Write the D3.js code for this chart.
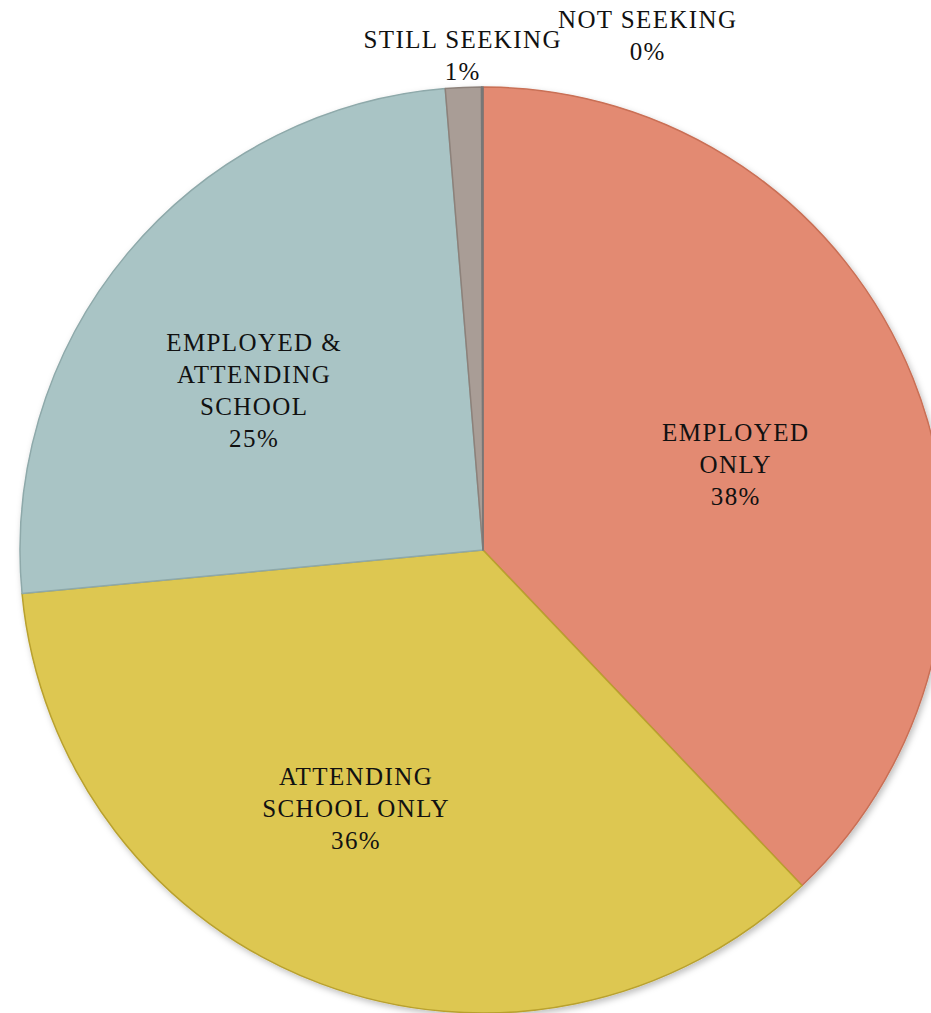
<!DOCTYPE html>
<html><head><meta charset="utf-8">
<script src="https://cdn.jsdelivr.net/npm/d3@7"></script>
<style>html,body{margin:0;padding:0;background:#fff;}svg{display:block;}</style>
</head><body>
<svg id="chart" width="931" height="1013"></svg>
<script>
// Data
const categories = ["EMPLOYED ONLY", "ATTENDING SCHOOL ONLY", "EMPLOYED & ATTENDING SCHOOL", "STILL SEEKING", "NOT SEEKING"];
const values = [37.9, 35.6, 25.2, 1.25, 0.05];
const percentLabels = ["38%", "36%", "25%", "1%", "0%"];
const labelLines = [["EMPLOYED", "ONLY"], ["ATTENDING", "SCHOOL ONLY"], ["EMPLOYED &", "ATTENDING", "SCHOOL"], ["STILL SEEKING"], ["NOT SEEKING"]];

// Styles / layout
const fills = ["#E38A72", "#DDC751", "#A9C4C5", "#A99D96", "#8C8C8C"];
const strokes = ["#C96F55", "#B9A12E", "#8EA9AA", "#8D817A", "#777777"];
const cx = 483, cy = 550, R = 463;
const labelLayout = [
  {mode: "in", dAngle: 3, rf: 0.575, firstBaseline: -23},
  {mode: "in", dAngle: 5, rf: 0.64, firstBaseline: -32},
  {mode: "in", dAngle: -5, rf: 0.605, firstBaseline: -38},
  {mode: "out", x: 462, y: 48},
  {mode: "out", x: 647, y: 28}
];
const lineH = 32;
const ls = 1.4;

const svg = d3.select("#chart");
const defs = svg.append("defs");
const f = defs.append("filter").attr("id", "sh").attr("x", "-10%").attr("y", "-10%").attr("width", "120%").attr("height", "120%");
f.append("feDropShadow").attr("dx", 2).attr("dy", 3).attr("stdDeviation", 3).attr("flood-color", "#000").attr("flood-opacity", 0.25);

const pie = d3.pie().sort(null).value(d => d)(values);
const arc = d3.arc().innerRadius(0).outerRadius(R);

const g = svg.append("g").attr("transform", `translate(${cx},${cy})`);
g.append("g").attr("filter", "url(#sh)")
  .selectAll("path").data(pie).join("path")
  .attr("d", arc)
  .attr("fill", (d, i) => fills[i])
  .attr("stroke", (d, i) => strokes[i])
  .attr("stroke-width", 1.5)
  .attr("stroke-linejoin", "round");

const font = "'Liberation Serif', 'Times New Roman', serif";
pie.forEach((d, i) => {
  const L = labelLayout[i];
  let x, y;
  if (L.mode === "in") {
    const a = (d.startAngle + d.endAngle) / 2 + L.dAngle * Math.PI / 180;
    const r = L.rf * R;
    x = cx + Math.sin(a) * r;
    y = cy - Math.cos(a) * r + L.firstBaseline;
  } else {
    x = L.x; y = L.y;
  }
  x += ls / 2;
  const lines = labelLines[i].concat([percentLabels[i]]);
  const t = svg.append("text")
    .attr("x", x).attr("y", y)
    .attr("text-anchor", "middle")
    .attr("font-family", font)
    .attr("font-size", 25)
    .attr("letter-spacing", ls)
    .attr("fill", "#111");
  lines.forEach((ln, k) => {
    t.append("tspan").attr("x", x).attr("y", y + k * lineH).text(ln);
  });
});
</script>
</body></html>
